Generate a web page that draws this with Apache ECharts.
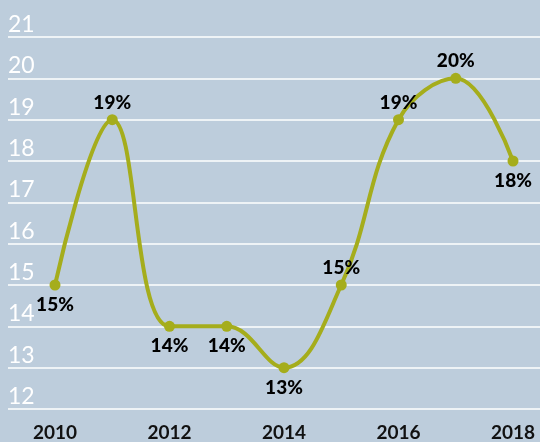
<!DOCTYPE html>
<html>
<head>
<meta charset="utf-8">
<script src="https://cdn.jsdelivr.net/npm/echarts@6/dist/echarts.min.js"></script>
<style>
  html, body { margin: 0; padding: 0; background: #bdcddc; }
  #main { width: 540px; height: 442px; }
</style>
</head>
<body>
<div id="main"></div>
<script>
const years = [2010, 2011, 2012, 2013, 2014, 2015, 2016, 2017, 2018]
const shares = [15, 19, 14, 14, 13, 15, 19, 20, 18]
const labelSide = ['bottom', 'top', 'bottom', 'bottom', 'bottom', 'top', 'top', 'top', 'bottom']
const yearTicks = [2010, 2012, 2014, 2016, 2018]

// 年份间隔约 57.25px，网格从 x=8 延伸到 540
const step = (513 - 55) / 8
const xMin = 2010 - (55 - 8) / step
const xMax = 2018 + (540 - 513) / step

const myChart = echarts.init(document.getElementById('main'))
myChart.setOption({
  backgroundColor: '#bdcddc',
  animation: false,
  grid: { left: 8, right: 0, top: 37, bottom: 32 },
  xAxis: {
    type: 'value',
    min: xMin,
    max: xMax,
    axisLine: { show: false },
    axisTick: { show: false },
    splitLine: { show: false },
    axisLabel: {
      customValues: yearTicks,
      formatter: v => String(v),
      color: '#111',
      fontFamily: 'Lato',
      fontWeight: 'bold',
      fontSize: 19,
      margin: 14
    }
  },
  yAxis: {
    type: 'value',
    min: 12,
    max: 21,
    interval: 1,
    axisLine: { show: false },
    axisTick: { show: false },
    splitLine: { lineStyle: { color: '#ffffff', width: 1.5 } },
    axisLabel: {
      inside: true,
      margin: 0,
      color: '#ffffff',
      fontFamily: 'Lato',
      fontWeight: 'normal',
      fontSize: 23,
      verticalAlign: 'bottom',
      padding: [0, 0, 1, 0]
    }
  },
  series: [{
    type: 'line',
    smooth: 0.4,
    symbol: 'circle',
    symbolSize: 11,
    itemStyle: { color: '#a5ad1c' },
    lineStyle: { color: '#a5ad1c', width: 4 },
    data: years.map((y, i) => ({
      value: [y, shares[i]],
      label: {
        show: true,
        position: labelSide[i],
        distance: labelSide[i] === 'top' ? 2 : 5,
        formatter: shares[i] + '%',
        color: '#000',
        fontFamily: 'Lato',
        fontWeight: 900,
        fontSize: 19
      }
    }))
  }]
})
</script>
</body>
</html>
